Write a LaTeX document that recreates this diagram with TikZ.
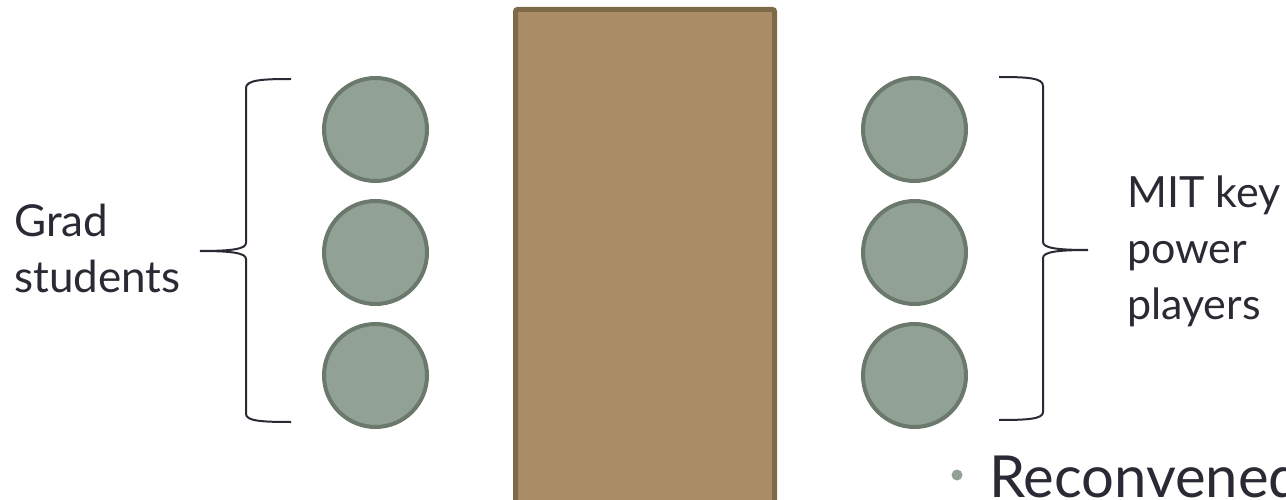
\documentclass[tikz,border=0pt]{standalone}
\usepackage{fontspec}
\setmainfont{Lato}
\definecolor{tablefill}{HTML}{AA8C66}
\definecolor{tableedge}{HTML}{7E6A49}
\definecolor{seatfill}{HTML}{92A195}
\definecolor{seatedge}{HTML}{6B786C}
\definecolor{ink}{HTML}{2A2A35}
\tikzset{
  seat/.style={circle, draw=seatedge, fill=seatfill, line width=4pt, minimum size=103pt, inner sep=0pt},
  bracepath/.style={draw=ink, line width=2pt},
  label/.style={font=\fontsize{44}{55.5}\selectfont, text=ink, align=left, inner sep=0pt},
}
\begin{document}
\begin{tikzpicture}[x=1pt,y=-1pt]
\useasboundingbox (0,0) rectangle (1286,500);
\clip (0,0) rectangle (1286,500);
% table
\draw[fill=tablefill, draw=tableedge, line width=5pt, rounded corners=2pt] (515.5,9.5) rectangle (774.5,560);
% seats
\node[seat] (l1) at (375.5,129.5) {};
\node[seat] (l2) at (375.5,252.5) {};
\node[seat] (l3) at (375.5,375.5) {};
\node[seat] (r1) at (914.5,129.5) {};
\node[seat] (r2) at (914.5,252.5) {};
\node[seat] (r3) at (914.5,375.5) {};
% left brace
\coordinate (ltip) at (200,251);
\draw[bracepath] (291,79) .. controls (262,79) and (246,80) .. (246,88)
  -- (246,243) .. controls (246,249) and (232,251) .. (ltip)
  .. controls (232,251) and (246,253) .. (246,259)
  -- (246,414) .. controls (246,421) and (262,422) .. (291,422);
% right brace
\coordinate (rtip) at (1088,250);
\draw[bracepath] (999,77) .. controls (1028,77) and (1043,78) .. (1043,86)
  -- (1043,242) .. controls (1043,248) and (1057,250) .. (rtip)
  .. controls (1057,250) and (1043,252) .. (1043,258)
  -- (1043,412) .. controls (1043,419) and (1028,420) .. (999,420);
% labels (anchor = baseline of the last line)
\node[label, anchor=base west] (grad) at (14,292) {Grad\\students};
\node[label, anchor=base west, font=\fontsize{43}{56}\selectfont] (mit) at (1127,319) {MIT key\\power\\players};
% bottom bullet
\node[circle, fill=seatfill, minimum size=11pt, inner sep=0pt] (dot) at (957,475) {};
\node[font=\fontsize{58}{66}\selectfont, text=ink, inner sep=0pt, anchor=base west] (recon) at (989,497) {Reconvened};
\end{tikzpicture}
\end{document}
